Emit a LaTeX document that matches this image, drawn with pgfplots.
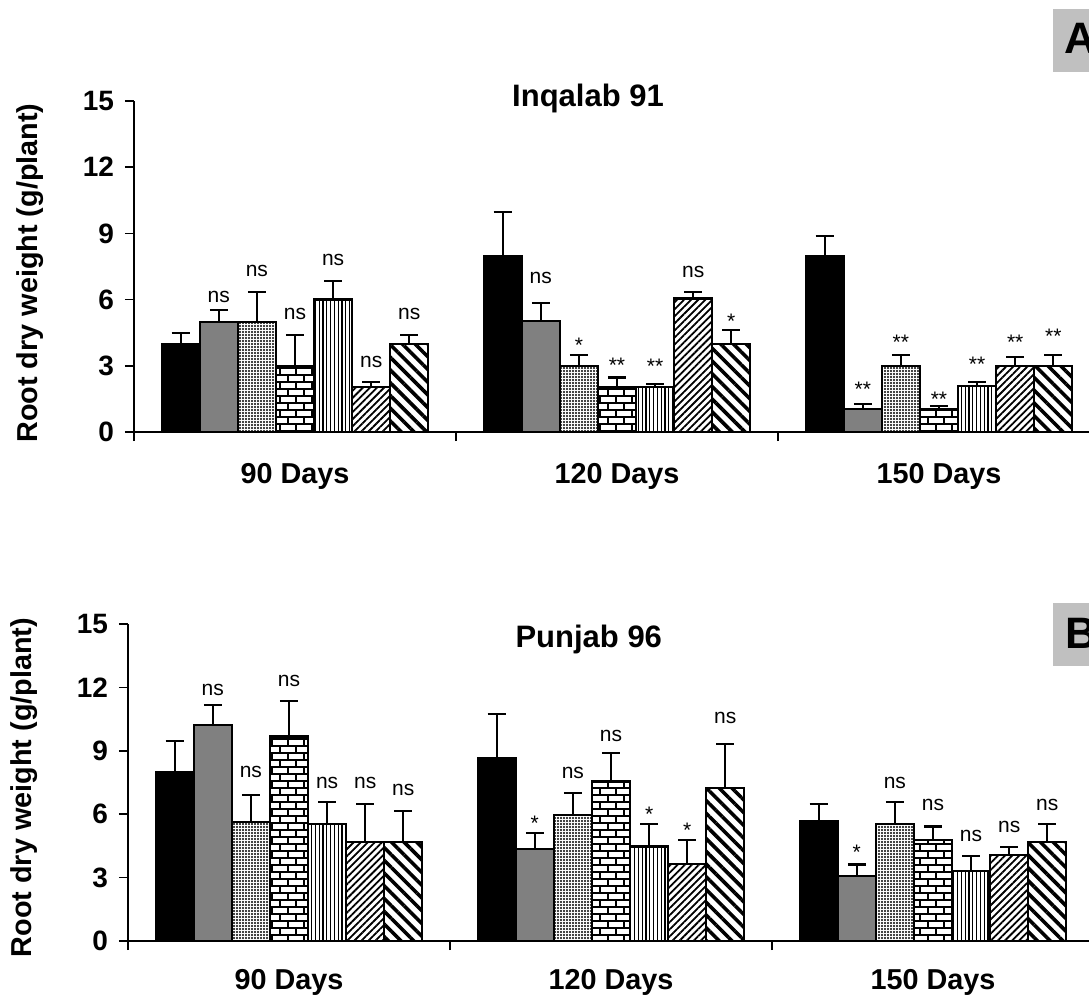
\documentclass[border=0pt]{standalone}
\usepackage{pgfplots}
\pgfplotsset{compat=1.18}
\usepackage{pgfplotstable}
\usepackage{fontspec}
\setmainfont{Liberation Sans}
\usetikzlibrary{patterns,patterns.meta}

\pgfdeclarepatternformonly{mybricks}{\pgfqpoint{-1pt}{-1pt}}{\pgfqpoint{9pt}{8pt}}{\pgfqpoint{8pt}{7pt}}{%
  \pgfsetlinewidth{0.9pt}%
  \pgfpathmoveto{\pgfqpoint{0pt}{0pt}}\pgfpathlineto{\pgfqpoint{8pt}{0pt}}%
  \pgfpathmoveto{\pgfqpoint{0pt}{3.5pt}}\pgfpathlineto{\pgfqpoint{8pt}{3.5pt}}%
  \pgfpathmoveto{\pgfqpoint{0pt}{0pt}}\pgfpathlineto{\pgfqpoint{0pt}{3.5pt}}%
  \pgfpathmoveto{\pgfqpoint{4pt}{3.5pt}}\pgfpathlineto{\pgfqpoint{4pt}{7pt}}%
  \pgfusepath{stroke}}

\definecolor{boxgray}{HTML}{C0C0C0}
\definecolor{bargray}{HTML}{808080}

\newcommand\tickfont{\fontsize{14}{14}\selectfont\bfseries}
\newcommand\labfont{\fontsize{14.4}{14.4}\selectfont\bfseries}
\newcommand\titfont{\fontsize{15.5}{15.5}\selectfont\bfseries}
\newcommand\sigfont{\fontsize{10.5}{10.5}\selectfont}

\pgfplotstableread{
g m0 e0 m1 e1 m2 e2 m3 e3 m4 e4 m5 e5 m6 e6
0 4.00 0.50 5.00 0.53 5.00 1.35 3.00 1.40 6.00 0.83 2.05 0.22 4.00 0.40
1 7.97 2.00 5.03 0.80 3.00 0.50 2.05 0.42 2.05 0.12 6.05 0.30 4.00 0.62
2 7.98 0.92 1.05 0.22 3.00 0.49 1.05 0.13 2.08 0.20 3.00 0.41 3.00 0.49
}\topdata

\pgfplotstableread{
g m0 e0 m1 e1 m2 e2 m3 e3 m4 e4 m5 e5 m6 e6
0 8.00 1.45 10.22 0.93 5.64 1.26 9.68 1.69 5.53 1.06 4.69 1.79 4.69 1.47
1 8.64 2.10 4.34 0.76 5.96 1.04 7.55 1.36 4.47 1.06 3.63 1.16 7.25 2.09
2 5.66 0.83 3.08 0.54 5.55 1.04 4.79 0.63 3.30 0.73 4.06 0.39 4.69 0.86
}\botdata

\pgfplotstableread{
x y l
-0.2366 6.13 ns
-0.1183 7.30 ns
0.0000 5.35 ns
0.1183 7.80 ns
0.2366 3.19 ns
0.3550 5.35 ns
0.7634 6.96 ns
0.8817 3.91 *
1.0000 3.01 **
1.1183 2.96 **
1.2366 7.26 ns
1.3550 5.02 *
1.7634 1.92 **
1.8817 4.06 **
2.0000 1.47 **
2.1183 3.05 **
2.2366 4.06 **
2.3550 4.36 **
}\toplab

\pgfplotstableread{
x y l
-0.2366 11.88 ns
-0.1183 8.00 ns
0.0000 12.30 ns
0.1183 7.49 ns
0.2366 7.49 ns
0.3550 7.15 ns
0.7634 5.57 *
0.8817 7.96 ns
1.0000 9.70 ns
1.1183 6.00 *
1.2366 5.25 *
1.3550 10.57 ns
1.7634 4.18 *
1.8817 7.46 ns
2.0000 6.42 ns
2.1183 4.97 ns
2.2366 5.41 ns
2.3550 6.42 ns
}\botlab

\pgfplotsset{
  panel/.style={
    anchor=south west, scale only axis, width=483pt,
    xmin=-0.5, xmax=2.5, ymin=0, ymax=15,
    axis x line=bottom, axis y line=left,
    x axis line style={-}, y axis line style={-},
    axis line style={line width=0.85pt, black},
    tick style={line width=0.85pt, black},
    tick align=outside, major tick length=4.5pt,
    xtick={-0.5,0.5,1.5,2.5}, xticklabels={},
    ytick={0,3,...,15},
    /pgf/number format/assume math mode=true,
    tick label style={font=\tickfont},
    yticklabel style={xshift=-2pt},
    clip=false,
  },
  mybar/.style={ybar, bar width=0.1183, bar shift=#1, draw=black, line width=1.1pt},
  errplot/.style={draw=none, mark=none, line width=1.1pt,
    error bars/y dir=plus, error bars/y explicit, error bars/error mark=|,
    error bars/error bar style={draw=black, line width=1.1pt, solid},
    error bars/error mark options={draw=black, line width=1.1pt, mark size=4.5pt, solid}},
  siglab/.style={draw=none, mark=none, nodes near coords, nodes near coords align={center},
    point meta=explicit symbolic,
    nodes near coords style={font=\sigfont, inner sep=0pt, black}},
  dotpat/.style={pattern={Dots[distance=1.5pt, radius=0.58pt]}},
  vpat/.style={pattern={Lines[angle=90, distance=1.9pt, line width=0.6pt]}},
  nepat/.style={pattern={Lines[angle=45, distance=2.5pt, line width=0.9pt]}},
  nwpat/.style={pattern={Lines[angle=-45, distance=4.5pt, line width=1.8pt]}},
}

\begin{document}
\begin{tikzpicture}
% ---------- Panel A ----------
\begin{axis}[panel, at={(67pt,283pt)}, height=165.5pt]
\addplot[mybar=-0.3550, fill=black] table[x=g, y=m0] \topdata;
\addplot[mybar=-0.2366, fill=bargray] table[x=g, y=m1] \topdata;
\addplot[mybar=-0.1183, dotpat] table[x=g, y=m2] \topdata;
\addplot[mybar=0, pattern=mybricks] table[x=g, y=m3] \topdata;
\addplot[mybar=0.1183, vpat] table[x=g, y=m4] \topdata;
\addplot[mybar=0.2366, nepat] table[x=g, y=m5] \topdata;
\addplot[mybar=0.3550, nwpat] table[x=g, y=m6] \topdata;
\addplot[errplot] table[x expr=\thisrow{g}-0.3550, y=m0, y error=e0] \topdata;
\addplot[errplot] table[x expr=\thisrow{g}-0.2366, y=m1, y error=e1] \topdata;
\addplot[errplot] table[x expr=\thisrow{g}-0.1183, y=m2, y error=e2] \topdata;
\addplot[errplot] table[x expr=\thisrow{g}, y=m3, y error=e3] \topdata;
\addplot[errplot] table[x expr=\thisrow{g}+0.1183, y=m4, y error=e4] \topdata;
\addplot[errplot] table[x expr=\thisrow{g}+0.2366, y=m5, y error=e5] \topdata;
\addplot[errplot] table[x expr=\thisrow{g}+0.3550, y=m6, y error=e6] \topdata;
\addplot[siglab] table[x=x, y=y, meta=l] \toplab;
\node[font=\titfont, anchor=base] at (rel axis cs:0.470,0.983) {Inqalab 91};
\node[font=\labfont, rotate=90, anchor=center] at (rel axis cs:-0.1077,0.480) {Root dry weight (g/plant)};
\node[font=\labfont, anchor=base, yshift=-25.65pt] at (axis cs:0,0) {90 Days};
\node[font=\labfont, anchor=base, yshift=-25.65pt] at (axis cs:1,0) {120 Days};
\node[font=\labfont, anchor=base, yshift=-25.65pt] at (axis cs:2,0) {150 Days};
\end{axis}
% ---------- Panel B ----------
\begin{axis}[panel, at={(64pt,28.5pt)}, height=158.5pt]
\addplot[mybar=-0.3550, fill=black] table[x=g, y=m0] \botdata;
\addplot[mybar=-0.2366, fill=bargray] table[x=g, y=m1] \botdata;
\addplot[mybar=-0.1183, dotpat] table[x=g, y=m2] \botdata;
\addplot[mybar=0, pattern=mybricks] table[x=g, y=m3] \botdata;
\addplot[mybar=0.1183, vpat] table[x=g, y=m4] \botdata;
\addplot[mybar=0.2366, nepat] table[x=g, y=m5] \botdata;
\addplot[mybar=0.3550, nwpat] table[x=g, y=m6] \botdata;
\addplot[errplot] table[x expr=\thisrow{g}-0.3550, y=m0, y error=e0] \botdata;
\addplot[errplot] table[x expr=\thisrow{g}-0.2366, y=m1, y error=e1] \botdata;
\addplot[errplot] table[x expr=\thisrow{g}-0.1183, y=m2, y error=e2] \botdata;
\addplot[errplot] table[x expr=\thisrow{g}, y=m3, y error=e3] \botdata;
\addplot[errplot] table[x expr=\thisrow{g}+0.1183, y=m4, y error=e4] \botdata;
\addplot[errplot] table[x expr=\thisrow{g}+0.2366, y=m5, y error=e5] \botdata;
\addplot[errplot] table[x expr=\thisrow{g}+0.3550, y=m6, y error=e6] \botdata;
\addplot[siglab] table[x=x, y=y, meta=l] \botlab;
\node[font=\titfont, anchor=base] at (rel axis cs:0.477,0.925) {Punjab 96};
\node[font=\labfont, rotate=90, anchor=center] at (rel axis cs:-0.1077,0.484) {Root dry weight (g/plant)};
\node[font=\labfont, anchor=base, yshift=-24.4pt] at (axis cs:0,0) {90 Days};
\node[font=\labfont, anchor=base, yshift=-24.4pt] at (axis cs:1,0) {120 Days};
\node[font=\labfont, anchor=base, yshift=-24.4pt] at (axis cs:2,0) {150 Days};
\end{axis}
% ---------- panel letters ----------
\fill[boxgray] (526.4pt,463.2pt) rectangle (560pt,494.5pt);
\node[font=\fontsize{22}{22}\selectfont\bfseries, anchor=base west, inner sep=0pt] at (532.1pt,472.35pt) {A};
\fill[boxgray] (526.6pt,166pt) rectangle (560pt,197.65pt);
\node[font=\fontsize{22}{22}\selectfont\bfseries, anchor=base west, inner sep=0pt] at (532.5pt,174.85pt) {B};
\pgfresetboundingbox
\path[use as bounding box] (0pt,0pt) rectangle (544.5pt,499pt);
\end{tikzpicture}
\end{document}
